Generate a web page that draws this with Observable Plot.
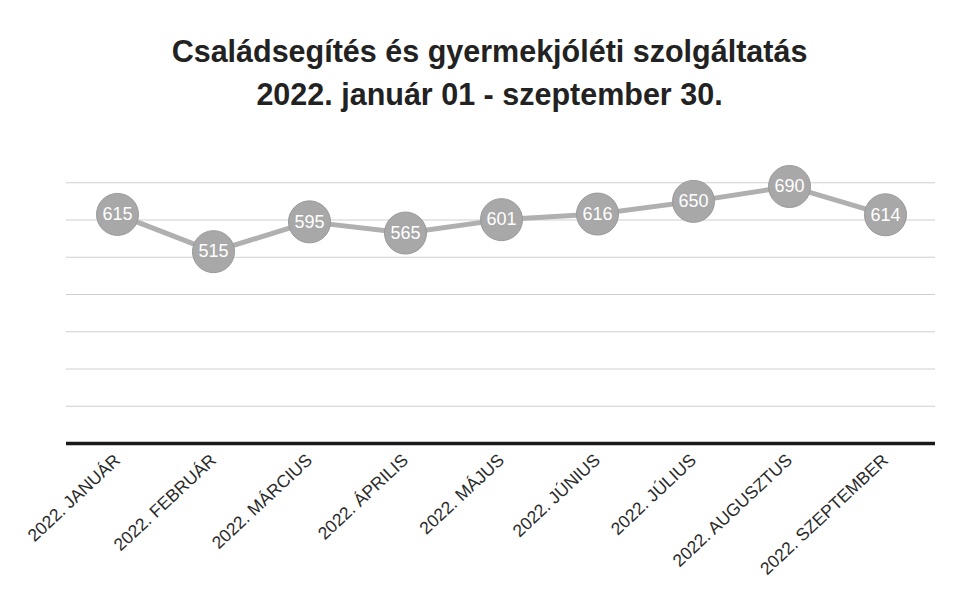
<!DOCTYPE html>
<html>
<head>
<meta charset="utf-8">
<script src="https://cdn.jsdelivr.net/npm/d3@7"></script>
<script src="https://cdn.jsdelivr.net/npm/@observablehq/plot@0.6"></script>
<style>
  html, body { margin: 0; padding: 0; background: #fff; }
  #title { height: 135px; box-sizing: border-box; padding-top: 30px; padding-left: 24px; text-align: center;
    font-family: "Liberation Sans", Arial, sans-serif; font-weight: bold; font-size: 30.5px;
    line-height: 43px; color: #222; }
</style>
</head>
<body>
<div id="title">Családsegítés és gyermekjóléti szolgáltatás<br>2022. január 01 - szeptember 30.</div>
<div id="chart"></div>
<script>
const months = ["2022. JANUÁR", "2022. FEBRUÁR", "2022. MÁRCIUS", "2022. ÁPRILIS", "2022. MÁJUS",
  "2022. JÚNIUS", "2022. JÚLIUS", "2022. AUGUSZTUS", "2022. SZEPTEMBER"];
const values = [615, 515, 595, 565, 601, 616, 650, 690, 614];
const gridTicks = [100, 200, 300, 400, 500, 600, 700];

const data = months.map((m, i) => ({month: m, value: values[i]}));

const chart = Plot.plot({
  width: 955,
  height: 472,
  marginLeft: 66,
  marginRight: 20,
  marginTop: 10,
  marginBottom: 164,
  style: {fontFamily: "'Liberation Sans', Arial, sans-serif", fontSize: "17.5px", color: "#2a2a2a", background: "transparent"},
  x: {type: "point", domain: months, padding: 0.5, label: null, tickRotate: -43, tickSize: 0, tickPadding: 14},
  y: {domain: [0, 800], axis: null},
  marks: [
    Plot.ruleY(gridTicks, {stroke: "#cfcfcf", strokeWidth: 1}),
    Plot.ruleY([0], {stroke: "#1a1a1a", strokeWidth: 3.5}),
    Plot.line(data, {x: "month", y: "value", stroke: "#b0b0b0", strokeWidth: 5}),
    Plot.dot(data, {x: "month", y: "value", r: 21, fill: "#a8a8a8", stroke: "#999", strokeWidth: 1}),
    Plot.text(data, {x: "month", y: "value", text: d => String(d.value), fill: "#fff", fontSize: 18, fontFamily: "'Liberation Sans', Arial, sans-serif"})
  ]
});
document.getElementById("chart").appendChild(chart);
</script>
</body>
</html>
